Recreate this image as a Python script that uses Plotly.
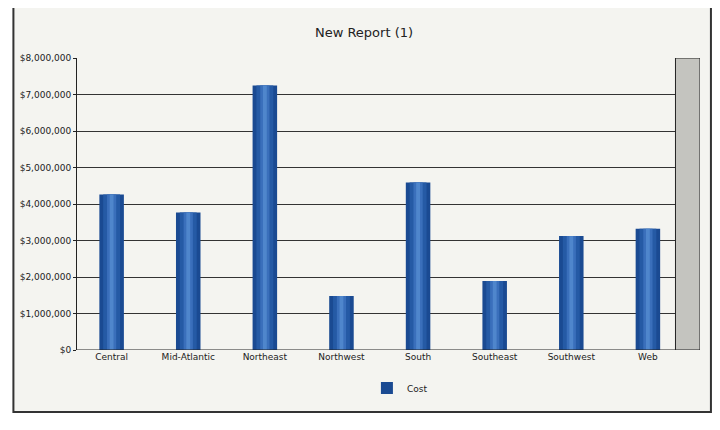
import plotly.graph_objects as go

regions = ["Central", "Mid-Atlantic", "Northeast", "Northwest", "South", "Southeast", "Southwest", "Web"]
cost = [4260000, 3770000, 7250000, 1480000, 4590000, 1890000, 3120000, 3320000]

fig = go.Figure()
layers = [(0.32, "#1a4a92", True), (0.22, "#255aa5", False), (0.12, "#3a6fbb", False), (0.05, "#4f86cc", False)]
for w, c, show in layers:
    fig.add_trace(go.Bar(x=list(range(len(regions))), y=cost, width=w, name="Cost",
                         marker=dict(color=c, line=dict(width=0)),
                         showlegend=show, hoverinfo="skip" if not show else None))

OFF = 8  # page body offset
W, H = 712, 422
L, R, T, B = 65, 20, 50, 80
pw, ph = W - L - R, H - T - B
def px(x): return (x - OFF - L) / pw
def py(y): return (H + OFF - B - y) / ph

shapes = [
    dict(type="rect", xref="paper", yref="paper", x0=px(9), x1=px(711), y0=py(412), y1=py(3),
         fillcolor="#f4f4f0", line=dict(color="#333", width=2), layer="below"),
    dict(type="rect", xref="x", yref="y", x0=7.36, x1=7.68, y0=0, y1=8000000,
         fillcolor="#c4c4bf", line=dict(color="#222", width=1), layer="above"),
    dict(type="line", xref="x", yref="y", x0=-0.452, x1=7.36, y0=0, y1=0, line=dict(color="#222", width=1)),
]

fig.update_layout(
    width=W, height=H, margin=dict(l=L, r=R, t=T, b=B),
    paper_bgcolor="white", plot_bgcolor="#f4f4f0",
    barmode="overlay", shapes=shapes,
    title=dict(text="New Report (1)", x=0.5, xref="container", y=1 - (32 - OFF)/H, yanchor="middle",
               font=dict(family="DejaVu Sans", size=13, color="#222")),
    font=dict(family="DejaVu Sans", size=9, color="#222"),
    xaxis=dict(range=[-0.452, 7.68], tickmode="array", tickvals=list(range(len(regions))),
               ticktext=regions, showgrid=False, zeroline=False, showline=False, ticks=""),
    yaxis=dict(range=[0, 8000000], dtick=1000000, tickprefix="$", tickformat=",d",
               showgrid=True, gridcolor="#333", gridwidth=1, zeroline=False,
               showline=True, linecolor="#222", ticks="outside", ticklen=3, tickcolor="#222"),
    legend=dict(orientation="h", x=px(398), xanchor="center", y=py(388), yanchor="middle",
                font=dict(size=9), bgcolor="rgba(0,0,0,0)", itemwidth=30),
)
fig.write_html("out.html")
